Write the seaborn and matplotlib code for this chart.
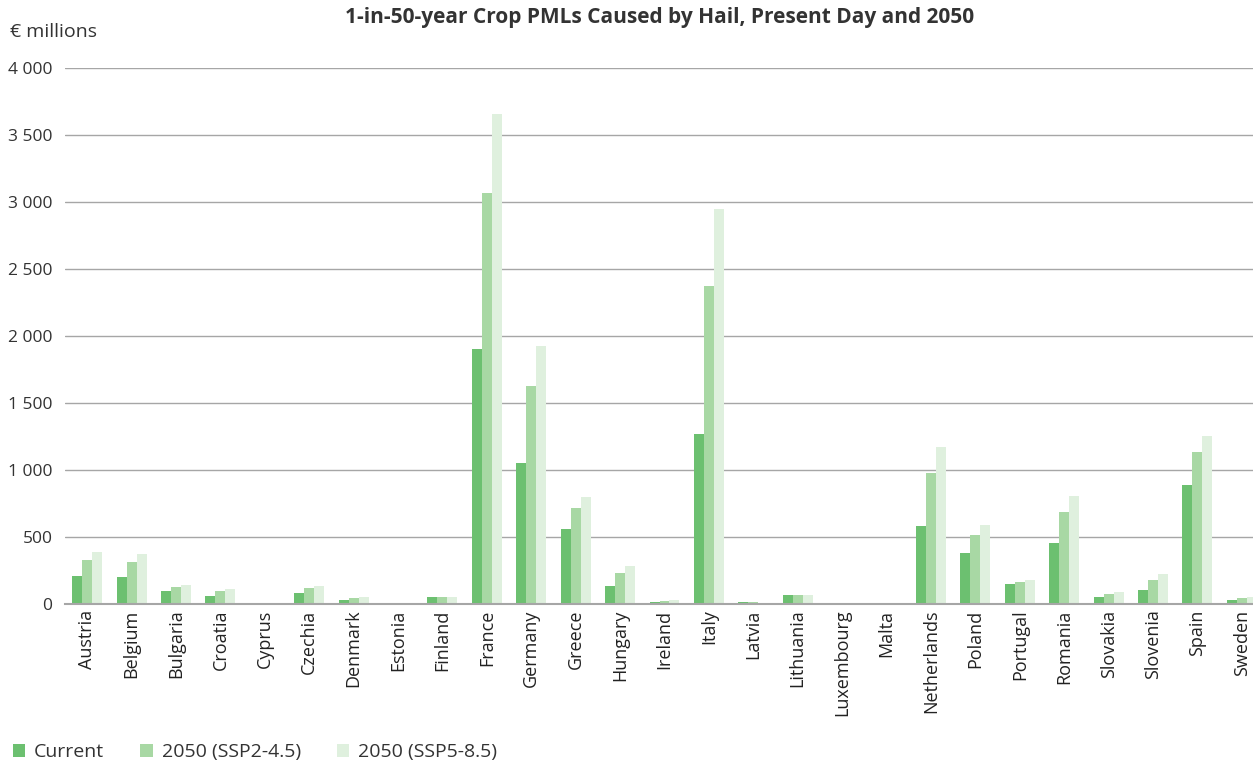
import matplotlib
matplotlib.use("Agg")
import matplotlib.pyplot as plt
import seaborn as sns
import pandas as pd
from matplotlib.ticker import FuncFormatter, MultipleLocator
from matplotlib.patches import Patch

countries = ["Austria", "Belgium", "Bulgaria", "Croatia", "Cyprus", "Czechia", "Denmark",
             "Estonia", "Finland", "France", "Germany", "Greece", "Hungary", "Ireland",
             "Italy", "Latvia", "Lithuania", "Luxembourg", "Malta", "Netherlands", "Poland",
             "Portugal", "Romania", "Slovakia", "Slovenia", "Spain", "Sweden"]
current = [206, 199, 95, 57, 5, 80, 27, 5, 50, 1900, 1050, 557, 132, 12, 1270, 12, 65,
           5, 5, 580, 378, 147, 453, 50, 102, 885, 27]
ssp245 = [326, 311, 124, 95, 5, 117, 42, 4, 50, 3065, 1625, 720, 229, 20, 2375, 12, 65,
          4, 4, 975, 512, 162, 690, 72, 177, 1135, 42]
ssp585 = [386, 371, 139, 109, 2, 132, 50, 2, 50, 3660, 1925, 800, 281, 27, 2950, 7, 65,
          2, 2, 1175, 587, 177, 805, 87, 221, 1255, 50]
series_names = ["Current", "2050 (SSP2-4.5)", "2050 (SSP5-8.5)"]
colors = ["#6cc070", "#a8d8a4", "#dff0de"]

rows = []
for name, vals in zip(series_names, [current, ssp245, ssp585]):
    for c, v in zip(countries, vals):
        rows.append({"country": c, "series": name, "value": v})
df = pd.DataFrame(rows)

sns.set_theme(style="white")
plt.rcParams["font.family"] = ["Open Sans", "DejaVu Sans"]

fig = plt.figure(figsize=(12.53, 7.67), dpi=100)
W, H = 1253, 767
left, right, top, bottom = 65, 1264, 68, 604
ax = fig.add_axes([left / W, 1 - bottom / H, (right - left) / W, (bottom - top) / H])

sns.barplot(data=df, x="country", y="value", hue="series", palette=colors,
            width=0.675, ax=ax, legend=False, saturation=1, linewidth=0)

ax.set_ylim(0, 4000)
ax.set_xlim(-0.5, len(countries) - 0.5)
ax.yaxis.set_major_locator(MultipleLocator(500))
ax.yaxis.set_major_formatter(FuncFormatter(lambda v, p: f"{int(v):,}".replace(",", " ")))
ax.grid(axis="y", color="#a6a6a6", linewidth=1.0)
ax.set_axisbelow(True)
for s in ["top", "right", "left"]:
    ax.spines[s].set_visible(False)
ax.spines["bottom"].set_color("#a6a6a6")
ax.spines["bottom"].set_linewidth(1.5)
ax.tick_params(axis="y", length=0, labelsize=12.5, labelcolor="#333333", pad=9)
ax.tick_params(axis="x", length=0, labelsize=13, labelcolor="#222222", pad=4)
ax.set_xticks(range(len(countries)))
ax.set_xticklabels(countries, rotation=90)
ax.set_xlabel("")
ax.set_ylabel("")

fig.text(660 / W, 1 - 17 / H, "1-in-50-year Crop PMLs Caused by Hail, Present Day and 2050",
         ha="center", va="center", fontsize=15, fontweight="bold", color="#333333")
fig.text(10 / W, 1 - 32 / H, "€ millions", ha="left", va="center", fontsize=14, color="#333333")

handles = [Patch(facecolor=c, edgecolor="none", label=n) for c, n in zip(colors, series_names)]
fig.legend(handles=handles, loc="center left", bbox_to_anchor=(0.004, 1 - 752 / H), ncol=3,
           frameon=False, fontsize=14, handlelength=0.65, handleheight=0.65,
           columnspacing=1.85, handletextpad=0.45, labelcolor="#333333", borderaxespad=0)

fig.savefig("out.png", dpi=100)
